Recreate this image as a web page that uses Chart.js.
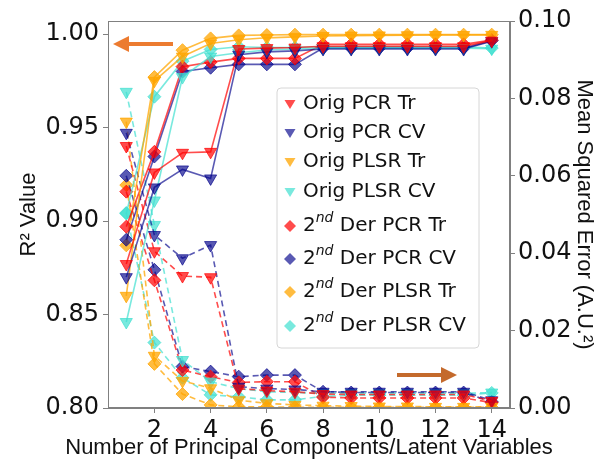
<!DOCTYPE html>
<html>
<head>
<meta charset="utf-8">
<script src="https://cdn.jsdelivr.net/npm/chart.js@4/dist/chart.umd.min.js"></script>
<style>
html, body { margin: 0; padding: 0; background: #fff; }
#wrap { width: 597px; height: 466px; }
</style>
</head>
<body>
<div id="wrap"><canvas id="chart"></canvas></div>
<script>
// number of principal components / latent variables
const components = [1, 2, 3, 4, 5, 6, 7, 8, 9, 10, 11, 12, 13, 14];
const xTicks = [2, 4, 6, 8, 10, 12, 14];
const r2Ticks = [0.80, 0.85, 0.90, 0.95, 1.00];
const mseTicks = [0, 0.02, 0.04, 0.06, 0.08, 0.10];

// R2 (left axis, solid)
const origPcrTrR2   = [0.877, 0.926, 0.9365, 0.937, 0.992, 0.9925, 0.9928, 0.9935, 0.9935, 0.9935, 0.9935, 0.9935, 0.9935, 0.9965];
const origPcrCvR2   = [0.870, 0.918, 0.9276, 0.9228, 0.989, 0.9905, 0.991, 0.992, 0.992, 0.992, 0.992, 0.992, 0.992, 0.9962];
const origPlsrTrR2  = [0.860, 0.975, 0.988, 0.995, 0.997, 0.998, 0.9985, 0.999, 0.9992, 0.9993, 0.9994, 0.9995, 0.9995, 0.9996];
const origPlsrCvR2  = [0.846, 0.911, 0.977, 0.988, 0.990, 0.9915, 0.992, 0.9925, 0.9925, 0.9925, 0.9925, 0.9925, 0.9925, 0.9922];
const derPcrTrR2    = [0.897, 0.937, 0.9826, 0.985, 0.987, 0.987, 0.987, 0.9945, 0.9945, 0.9945, 0.9945, 0.9945, 0.9945, 0.9968];
const derPcrCvR2    = [0.890, 0.9345, 0.980, 0.982, 0.9838, 0.9838, 0.9838, 0.9925, 0.9925, 0.9925, 0.9925, 0.9925, 0.9925, 0.9965];
const derPlsrTrR2   = [0.887, 0.977, 0.9914, 0.9977, 0.9993, 0.9995, 0.9997, 0.9997, 0.9997, 0.9997, 0.9997, 0.9997, 0.9997, 0.9997];
const derPlsrCvR2   = [0.904, 0.9665, 0.9855, 0.9918, 0.9932, 0.9928, 0.9928, 0.9932, 0.9932, 0.9932, 0.9932, 0.9932, 0.9932, 0.9925];

// MSE (right axis, dashed)
const origPcrTrMse  = [0.0677, 0.0405, 0.0341, 0.0338, 0.0050, 0.0045, 0.0042, 0.0036, 0.0035, 0.0035, 0.0035, 0.0035, 0.0035, 0.0018];
const origPcrCvMse  = [0.0711, 0.0447, 0.0387, 0.0421, 0.0055, 0.0050, 0.0048, 0.0042, 0.0042, 0.0042, 0.0042, 0.0042, 0.0042, 0.0020];
const origPlsrTrMse = [0.0740, 0.0135, 0.0070, 0.0051, 0.0020, 0.0012, 0.0008, 0.0006, 0.0005, 0.0004, 0.0004, 0.0003, 0.0003, 0.0003];
const origPlsrCvMse = [0.0817, 0.0473, 0.0124, 0.0068, 0.0050, 0.0042, 0.0040, 0.0038, 0.0038, 0.0038, 0.0038, 0.0038, 0.0038, 0.0040];
const derPcrTrMse   = [0.0559, 0.0330, 0.0098, 0.0081, 0.0066, 0.0068, 0.0068, 0.0028, 0.0026, 0.0026, 0.0026, 0.0026, 0.0026, 0.0014];
const derPcrCvMse   = [0.0600, 0.0357, 0.0107, 0.0094, 0.0081, 0.0085, 0.0085, 0.0042, 0.0040, 0.0040, 0.0040, 0.0040, 0.0040, 0.0016];
const derPlsrTrMse  = [0.0576, 0.0114, 0.0036, 0.0008, 0.0003, 0.0003, 0.0002, 0.0002, 0.0002, 0.0002, 0.0002, 0.0002, 0.0002, 0.0002];
const derPlsrCvMse  = [0.0504, 0.0169, 0.0078, 0.0034, 0.0029, 0.0021, 0.0021, 0.0030, 0.0033, 0.0033, 0.0033, 0.0033, 0.0033, 0.0039];

const xTitle = 'Number of Principal Components/Latent Variables';

const RED = 'rgba(255, 0, 0, 0.7)';
const NAVY = 'rgba(0, 0, 139, 0.65)';
const ORANGE = 'rgba(255, 165, 0, 0.75)';
const CYAN = 'rgba(64, 224, 208, 0.7)';

const legendItems = [
    { text: 'Orig PCR Tr', color: RED, marker: 'v' },
    { text: 'Orig PCR CV', color: NAVY, marker: 'v' },
    { text: 'Orig PLSR Tr', color: ORANGE, marker: 'v' },
    { text: 'Orig PLSR CV', color: CYAN, marker: 'v' },
    { text: ' Der PCR Tr', color: RED, marker: 'D', sup: true },
    { text: ' Der PCR CV', color: NAVY, marker: 'D', sup: true },
    { text: ' Der PLSR Tr', color: ORANGE, marker: 'D', sup: true },
    { text: ' Der PLSR CV', color: CYAN, marker: 'D', sup: true },
];

function series(label, values, color, marker, axis) {
    return {
        label: label,
        data: components.map((c, i) => ({ x: c, y: values[i] })),
        yAxisID: axis,
        borderColor: color,
        backgroundColor: color,
        pointBackgroundColor: color,
        pointBorderColor: color,
        pointStyle: marker === 'v' ? 'triangle' : 'rectRot',
        pointRotation: marker === 'v' ? 180 : 0,
        pointRadius: marker === 'v' ? 7 : 6.5,
        pointBorderWidth: 1,
        borderWidth: 1.6,
        borderDash: axis === 'y2' ? [6, 4] : [],
        tension: 0
    };
}

const datasets = [
    series('Orig PCR Tr', origPcrTrR2, RED, 'v', 'y'),
    series('Orig PCR CV', origPcrCvR2, NAVY, 'v', 'y'),
    series('Orig PLSR Tr', origPlsrTrR2, ORANGE, 'v', 'y'),
    series('Orig PLSR CV', origPlsrCvR2, CYAN, 'v', 'y'),
    series('2nd Der PCR Tr', derPcrTrR2, RED, 'D', 'y'),
    series('2nd Der PCR CV', derPcrCvR2, NAVY, 'D', 'y'),
    series('2nd Der PLSR Tr', derPlsrTrR2, ORANGE, 'D', 'y'),
    series('2nd Der PLSR CV', derPlsrCvR2, CYAN, 'D', 'y'),
    series('Orig PCR Tr MSE', origPcrTrMse, RED, 'v', 'y2'),
    series('Orig PCR CV MSE', origPcrCvMse, NAVY, 'v', 'y2'),
    series('Orig PLSR Tr MSE', origPlsrTrMse, ORANGE, 'v', 'y2'),
    series('Orig PLSR CV MSE', origPlsrCvMse, CYAN, 'v', 'y2'),
    series('2nd Der PCR Tr MSE', derPcrTrMse, RED, 'D', 'y2'),
    series('2nd Der PCR CV MSE', derPcrCvMse, NAVY, 'D', 'y2'),
    series('2nd Der PLSR Tr MSE', derPlsrTrMse, ORANGE, 'D', 'y2'),
    series('2nd Der PLSR CV MSE', derPlsrCvMse, CYAN, 'D', 'y2'),
];

const AXIS_GRAY = '#808080';
const tickFont = { family: 'DejaVu Sans', size: 24 };
const titleFont = { family: 'Liberation Sans', size: 22 };

// frame, x title, legend box and the two arrows
const decorations = {
    id: 'decorations',
    afterDraw(chart) {
        const ctx = chart.ctx;
        const a = chart.chartArea;
        ctx.save();
        ctx.strokeStyle = AXIS_GRAY;
        ctx.lineWidth = 1;
        ctx.strokeRect(a.left + 0.5, a.top + 0.5, a.right - a.left - 1, a.bottom - a.top - 1);

        // x axis title (drawn here so it is not squeezed to the plot width)
        ctx.fillStyle = '#111';
        ctx.font = '22px "Liberation Sans"';
        ctx.textAlign = 'center';
        ctx.textBaseline = 'middle';
        ctx.fillText(xTitle, (a.left + a.right) / 2, 448);

        // legend
        const lx = 277, ly = 88, lw = 202, lh = 260, r = 4;
        ctx.beginPath();
        ctx.moveTo(lx + r, ly);
        ctx.arcTo(lx + lw, ly, lx + lw, ly + lh, r);
        ctx.arcTo(lx + lw, ly + lh, lx, ly + lh, r);
        ctx.arcTo(lx, ly + lh, lx, ly, r);
        ctx.arcTo(lx, ly, lx + lw, ly, r);
        ctx.closePath();
        ctx.fillStyle = 'rgba(255,255,255,0.85)';
        ctx.fill();
        ctx.strokeStyle = '#d6d6d6';
        ctx.stroke();

        const rows = [104, 133, 162, 192, 226, 259, 292, 326];
        legendItems.forEach((item, i) => {
            const y = rows[i];
            const mx = 290;
            ctx.fillStyle = item.color;
            ctx.beginPath();
            if (item.marker === 'v') {
                ctx.moveTo(mx - 5.5, y - 4);
                ctx.lineTo(mx + 5.5, y - 4);
                ctx.lineTo(mx, y + 5);
            } else {
                ctx.moveTo(mx - 6, y);
                ctx.lineTo(mx, y - 6);
                ctx.lineTo(mx + 6, y);
                ctx.lineTo(mx, y + 6);
            }
            ctx.closePath();
            ctx.fill();

            ctx.fillStyle = '#111';
            ctx.textBaseline = 'middle';
            ctx.textAlign = 'left';
            let tx = 303;
            if (item.sup) {
                ctx.font = '20px "DejaVu Sans"';
                ctx.fillText('2', tx, y);
                tx += ctx.measureText('2').width;
                ctx.font = 'italic 14px "DejaVu Sans"';
                ctx.fillText('nd', tx, y - 8);
                tx += ctx.measureText('nd').width;
            }
            ctx.font = '20px "DejaVu Sans"';
            ctx.fillText(item.text, tx, y);
        });

        // arrows
        function arrow(x0, x1, y, color) {
            const dir = Math.sign(x1 - x0);
            const head = 16, half = 8, shaft = 2;
            ctx.fillStyle = color;
            ctx.beginPath();
            ctx.moveTo(x0, y - shaft);
            ctx.lineTo(x1 - dir * head, y - shaft);
            ctx.lineTo(x1 - dir * head, y - half);
            ctx.lineTo(x1, y);
            ctx.lineTo(x1 - dir * head, y + half);
            ctx.lineTo(x1 - dir * head, y + shaft);
            ctx.lineTo(x0, y + shaft);
            ctx.closePath();
            ctx.fill();
        }
        arrow(173, 113, 44, '#ec7b30');
        arrow(397, 457, 375, '#c46a2c');
        ctx.restore();
    }
};

new Chart(document.getElementById('chart'), {
    type: 'line',
    data: { datasets: datasets },
    options: {
        responsive: true,
        maintainAspectRatio: false,
        animation: false,
        layout: { padding: { top: 21, left: 0, right: 0, bottom: 0 } },
        plugins: {
            legend: { display: false },
            tooltip: { enabled: false }
        },
        scales: {
            x: {
                type: 'linear',
                position: 'bottom',
                min: 0.35,
                max: 14.65,
                afterBuildTicks: axis => { axis.ticks = xTicks.map(v => ({ value: v })); },
                afterFit: axis => { axis.height = 58; },
                ticks: { font: tickFont, color: '#111', padding: 3, maxRotation: 0 },
                grid: { drawOnChartArea: false, tickLength: 5, color: AXIS_GRAY },
                border: { color: AXIS_GRAY },
                title: { display: false }
            },
            y: {
                position: 'left',
                min: 0.80,
                max: 1.007,
                afterBuildTicks: axis => { axis.ticks = r2Ticks.map(v => ({ value: v })); },
                afterFit: axis => { axis.width = 108; },
                ticks: { font: tickFont, color: '#111', padding: 4, callback: v => v.toFixed(2) },
                grid: { drawOnChartArea: false, tickLength: 5, color: AXIS_GRAY },
                border: { color: AXIS_GRAY },
                title: { display: true, text: 'R² Value', font: titleFont, color: '#111', padding: { top: 16, bottom: 0 } }
            },
            y2: {
                position: 'right',
                min: 0,
                max: 0.10,
                afterBuildTicks: axis => { axis.ticks = mseTicks.map(v => ({ value: v })); },
                afterFit: axis => { axis.width = 87; },
                ticks: { font: tickFont, color: '#111', padding: 3, callback: v => v.toFixed(2) },
                grid: { drawOnChartArea: false, tickLength: 5, color: AXIS_GRAY },
                border: { color: AXIS_GRAY },
                title: { display: true, text: 'Mean Squared Error (A.U.²)', font: titleFont, color: '#111', padding: { top: 0, bottom: 0 } }
            }
        }
    },
    plugins: [decorations]
});
</script>
</body>
</html>
